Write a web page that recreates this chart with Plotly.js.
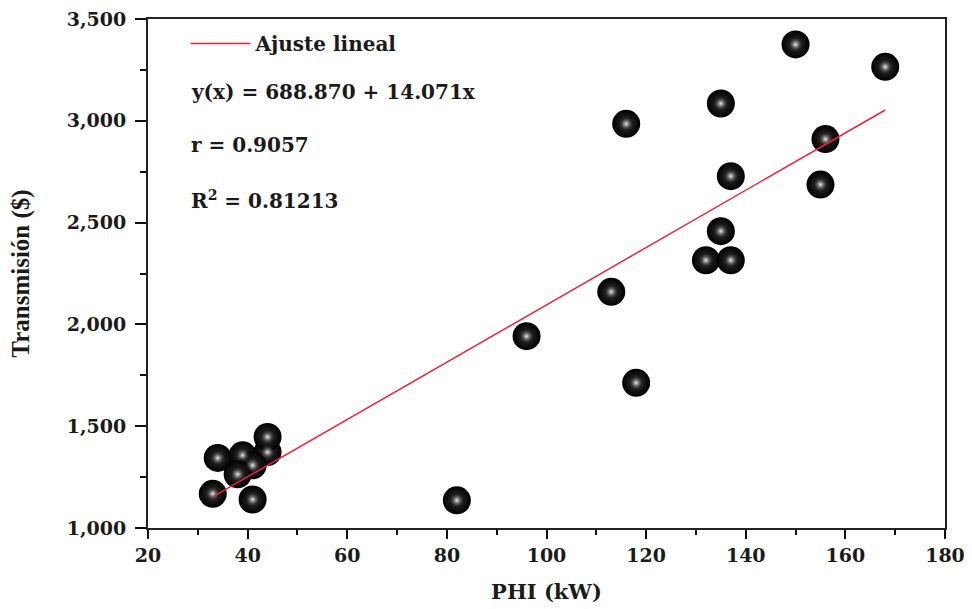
<!DOCTYPE html>
<html>
<head>
<meta charset="utf-8">
<script src="https://cdn.plot.ly/plotly-3.0.1.min.js"></script>
<style>html,body{margin:0;padding:0;background:#fff;}#chart{width:972px;height:609px;}</style>
</head>
<body>
<div id="chart"></div>
<script>
// Data
const phi   = [150, 168, 135, 116, 156, 137, 155, 135, 132, 137, 113, 96, 118, 82, 33, 41, 34, 44, 44, 39, 41, 38];
const trans = [3375, 3265, 3085, 2985, 2910, 2728, 2687, 2458, 2315, 2315, 2160, 1942, 1713, 1136, 1168, 1140, 1344, 1373, 1447, 1357, 1308, 1264];

// Fitted line end points (from the reference: y(x) = 688.870 + 14.071x)
const fitX = [33, 168];
const fitY = [1153, 3053];

const xTicks = [20, 40, 60, 80, 100, 120, 140, 160, 180];
const yTicks = [1000, 1500, 2000, 2500, 3000, 3500];

const statLines = ['y(x) = 688.870 + 14.071x', 'r = 0.9057', 'R<sup>2</sup> = 0.81213'];
const legendName = 'Ajuste lineal';
const xTitle = 'PHI (kW)';
const yTitle = 'Transmisión ($)';

const serifBold = {family: 'DejaVu Serif', size: 19, color: '#1a1a1a', weight: 'bold'};

const traces = [
  { x: phi, y: trans, type: 'scatter', mode: 'markers', showlegend: false, hoverinfo: 'x+y',
    marker: {size: 28, color: '#000', gradient: {type: 'radial', color: '#333'}, line: {width: 0}} },
  { x: phi, y: trans, type: 'scatter', mode: 'markers', showlegend: false, hoverinfo: 'skip',
    marker: {size: 16, color: 'rgba(0,0,0,0)', gradient: {type: 'radial', color: '#f0f0f0'}, line: {width: 0}} },
  { x: fitX, y: fitY, type: 'scatter', mode: 'lines', name: legendName,
    line: {color: '#e0283c', width: 1.5} }
];

const annY = [0.856, 0.753, 0.645];
const annotations = statLines.map((t, i) => ({
  xref: 'paper', yref: 'paper', x: 0.052, y: annY[i], xanchor: 'left', yanchor: 'middle',
  text: t, showarrow: false, font: {family: 'DejaVu Serif', size: 20, color: '#1a1a1a', weight: 'bold'}
}));

const layout = {
  width: 972, height: 609,
  margin: {l: 148, r: 27, t: 19, b: 81},
  paper_bgcolor: '#fff', plot_bgcolor: '#fff',
  showlegend: true,
  legend: {x: 0.047, y: 0.99, xanchor: 'left', yanchor: 'top', bgcolor: 'rgba(0,0,0,0)', itemwidth: 60,
           font: {family: 'DejaVu Serif', size: 20, color: '#1a1a1a', weight: 'bold'}},
  xaxis: {
    range: [20, 180], tickmode: 'array', tickvals: xTicks, ticktext: xTicks.map(String),
    ticks: 'outside', ticklen: 9, tickwidth: 2, tickcolor: '#111',
    minor: {dtick: 10, tick0: 20, ticks: 'outside', ticklen: 5, tickwidth: 2, tickcolor: '#111'},
    showline: true, linecolor: '#222', linewidth: 2, mirror: true,
    showgrid: false, zeroline: false,
    tickfont: serifBold,
    title: {text: xTitle, font: {family: 'DejaVu Serif', size: 21, color: '#1a1a1a', weight: 'bold'}, standoff: 20}
  },
  yaxis: {
    range: [1000, 3500], tickmode: 'array', tickvals: yTicks, ticktext: yTicks.map(v => v.toLocaleString('en-US')),
    ticks: 'outside', ticklen: 11, tickwidth: 2, tickcolor: '#111', ticklabelstandoff: 5,
    minor: {dtick: 250, tick0: 1000, ticks: 'outside', ticklen: 6, tickwidth: 2, tickcolor: '#111'},
    showline: true, linecolor: '#222', linewidth: 2, mirror: true,
    showgrid: false, zeroline: false,
    tickfont: serifBold,
    title: {text: yTitle, font: {family: 'Liberation Serif', size: 25, color: '#1a1a1a', weight: 'bold'}, standoff: 30}
  },
  annotations: annotations
};

Plotly.newPlot('chart', traces, layout, {displayModeBar: false, staticPlot: true});
</script>
</body>
</html>
